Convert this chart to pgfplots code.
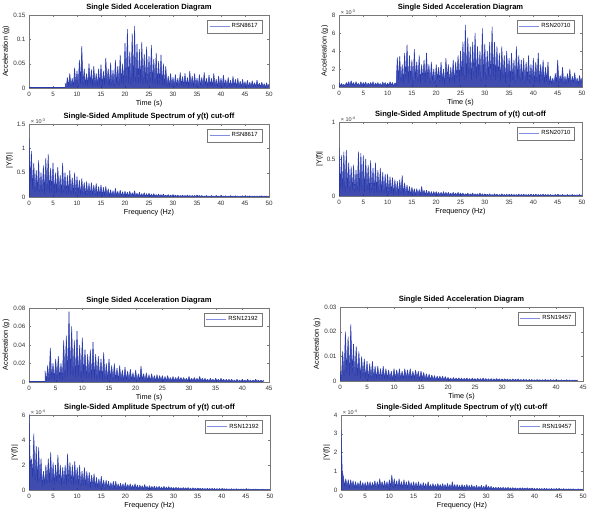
\documentclass[border=0pt]{standalone}
\usepackage{fontspec}
\setmainfont{Liberation Sans}
\setsansfont{Liberation Sans}
\usepackage{pgfplots}
\usepackage{pgfplotstable}
\pgfplotsset{compat=1.18}
\definecolor{sigblue}{RGB}{40,58,175}
\definecolor{fillblue}{RGB}{30,45,160}
\definecolor{legblue}{RGB}{130,140,225}
\definecolor{axgray}{RGB}{120,120,120}

\pgfplotstableread[header=false,row sep=\\]{
0.010\\0.002\\0.022\\0.003\\0.030\\0.004\\0.020\\0.002\\0.042\\0.006\\
0.035\\0.004\\0.058\\0.008\\0.086\\0.006\\0.040\\0.005\\0.030\\0.004\\
0.050\\0.007\\0.038\\0.003\\0.045\\0.006\\0.030\\0.004\\0.040\\0.005\\
0.048\\0.003\\0.035\\0.006\\0.062\\0.008\\0.040\\0.004\\0.052\\0.006\\
0.036\\0.003\\0.058\\0.007\\0.045\\0.005\\0.068\\0.010\\0.050\\0.006\\
0.092\\0.012\\0.121\\0.010\\0.075\\0.008\\0.112\\0.012\\0.127\\0.010\\
0.090\\0.009\\0.080\\0.011\\0.095\\0.008\\0.070\\0.010\\0.085\\0.007\\
0.065\\0.012\\0.088\\0.009\\0.060\\0.008\\0.072\\0.006\\0.055\\0.007\\
0.068\\0.005\\0.050\\0.006\\0.045\\0.004\\0.025\\0.003\\0.030\\0.004\\
0.022\\0.002\\0.028\\0.004\\0.020\\0.003\\0.032\\0.005\\0.024\\0.003\\
0.030\\0.004\\0.022\\0.002\\0.035\\0.004\\0.025\\0.003\\0.030\\0.004\\
0.020\\0.002\\0.028\\0.004\\0.022\\0.003\\0.032\\0.005\\0.020\\0.002\\
0.027\\0.004\\0.020\\0.003\\0.030\\0.004\\0.018\\0.002\\0.025\\0.003\\
0.020\\0.002\\0.027\\0.004\\0.017\\0.002\\0.022\\0.003\\0.016\\0.002\\
0.024\\0.003\\0.018\\0.002\\0.020\\0.003\\0.014\\0.002\\0.018\\0.003\\
0.013\\0.002\\0.016\\0.002\\0.012\\0.002\\0.015\\0.003\\0.011\\0.002\\
0.016\\0.003\\0.010\\0.002\\0.012\\0.002\\0.009\\0.001\\0.011\\0.002\\
0.008\\
}\tA

\pgfplotstableread[header=false,row sep=\\]{
0.5\\0.1\\0.4\\0.15\\0.3\\0.1\\0.5\\0.2\\0.6\\0.15\\
0.7\\0.2\\0.5\\0.1\\0.6\\0.2\\0.4\\0.1\\0.6\\0.15\\
0.5\\0.2\\0.55\\0.1\\0.45\\0.15\\0.5\\0.2\\0.6\\0.1\\
0.45\\0.2\\0.5\\0.15\\0.4\\0.1\\0.55\\0.2\\0.5\\0.1\\
0.45\\0.15\\0.6\\0.2\\0.5\\0.1\\0.45\\0.15\\
3.3\\0.8\\3.4\\0.6\\2.5\\0.4\\3.8\\0.9\\4.7\\0.5\\
3.5\\0.8\\3.0\\0.3\\4.2\\0.9\\2.8\\0.6\\3.5\\0.4\\
2.5\\0.8\\3.0\\0.5\\3.8\\0.9\\2.5\\0.4\\2.8\\0.7\\
2.0\\0.3\\2.5\\0.8\\2.2\\0.5\\2.8\\0.6\\2.0\\0.3\\
3.2\\0.9\\2.5\\0.5\\2.2\\0.7\\3.0\\0.4\\2.8\\1.0\\
3.5\\0.6\\4.0\\1.2\\5.0\\0.8\\6.9\\1.0\\5.5\\1.4\\
4.5\\0.7\\5.0\\1.2\\6.0\\0.9\\4.5\\1.3\\4.0\\0.6\\
6.5\\1.0\\4.8\\0.8\\4.0\\1.2\\5.0\\0.7\\6.7\\1.1\\
5.0\\0.8\\4.5\\1.0\\3.8\\0.6\\4.5\\0.9\\3.5\\0.5\\
4.0\\1.0\\3.2\\0.6\\3.8\\0.8\\3.0\\0.4\\4.5\\0.9\\
3.5\\0.6\\3.0\\0.8\\3.2\\0.4\\2.8\\0.7\\3.5\\0.5\\
2.5\\0.8\\3.2\\0.4\\2.8\\0.6\\3.8\\0.5\\2.5\\0.7\\
3.0\\0.4\\2.2\\0.6\\2.8\\0.3\\1.2\\0.4\\1.0\\0.3\\
1.5\\0.5\\3.0\\0.4\\1.3\\0.5\\2.2\\0.3\\1.2\\0.4\\
1.5\\0.5\\2.0\\0.3\\1.2\\0.5\\1.6\\0.4\\1.0\\0.3\\
1.3\\0.5\\1.0\\
}\tB

\pgfplotstableread[header=false,row sep=\\]{
1.20\\0.30\\0.95\\0.15\\0.70\\0.10\\0.55\\0.12\\0.75\\0.08\\
0.50\\0.10\\0.65\\0.06\\0.80\\0.12\\0.88\\0.08\\0.60\\0.10\\
0.70\\0.06\\0.50\\0.08\\0.62\\0.10\\0.45\\0.05\\0.70\\0.08\\
0.50\\0.06\\0.45\\0.07\\0.55\\0.05\\0.40\\0.06\\0.50\\0.04\\
0.42\\0.06\\0.35\\0.04\\0.38\\0.05\\0.30\\0.03\\0.32\\0.04\\
0.28\\0.03\\0.30\\0.04\\0.25\\0.03\\0.28\\0.02\\0.22\\0.03\\
0.25\\0.02\\0.20\\0.03\\0.22\\0.02\\0.17\\0.02\\0.15\\0.02\\
0.13\\0.01\\0.18\\0.02\\0.12\\0.01\\0.14\\0.02\\0.11\\0.01\\
0.12\\0.02\\0.10\\0.01\\0.12\\0.01\\0.09\\0.02\\0.13\\0.01\\
0.08\\0.01\\0.10\\0.01\\0.07\\0.01\\0.09\\0.01\\0.07\\0.01\\
0.08\\0.01\\0.06\\0.01\\0.07\\0.01\\0.05\\0.01\\0.06\\0.01\\
0.05\\0.01\\0.06\\0.01\\0.04\\0.01\\0.05\\0.01\\0.04\\0.01\\
0.05\\0.01\\0.04\\0.01\\0.04\\0.01\\0.03\\0.01\\0.04\\0.01\\
0.03\\0.01\\0.04\\0.01\\0.03\\0.01\\0.03\\0.01\\0.03\\0.01\\
0.04\\0.01\\0.03\\0.01\\0.03\\0.005\\0.02\\0.01\\0.03\\0.005\\
0.02\\0.005\\0.03\\0.01\\0.02\\0.005\\0.03\\0.005\\0.02\\0.005\\
0.03\\0.005\\0.02\\0.005\\0.025\\0.005\\0.02\\0.005\\0.03\\0.005\\
0.02\\0.005\\0.025\\0.005\\0.02\\0.005\\0.02\\0.005\\0.025\\0.005\\
0.02\\0.005\\0.02\\0.005\\0.025\\0.005\\0.02\\0.005\\0.02\\0.005\\
0.02\\0.005\\0.02\\0.005\\0.025\\0.005\\0.02\\0.005\\0.02\\0.005\\
0.02\\
}\tC

\pgfplotstableread[header=false,row sep=\\]{
0.65\\0.10\\0.55\\0.08\\0.60\\0.05\\0.62\\0.10\\0.45\\0.06\\
0.40\\0.08\\0.42\\0.05\\0.35\\0.07\\0.60\\0.06\\0.58\\0.08\\
0.55\\0.05\\0.50\\0.07\\0.42\\0.04\\0.48\\0.06\\0.38\\0.04\\
0.45\\0.05\\0.35\\0.04\\0.38\\0.05\\0.32\\0.03\\0.30\\0.04\\
0.30\\0.03\\0.26\\0.04\\0.25\\0.02\\0.22\\0.03\\0.20\\0.02\\
0.22\\0.03\\0.28\\0.02\\0.18\\0.02\\0.15\\0.02\\0.13\\0.01\\
0.12\\0.02\\0.10\\0.01\\0.10\\0.01\\0.09\\0.01\\0.13\\0.02\\
0.08\\0.01\\0.08\\0.01\\0.07\\0.01\\0.06\\0.01\\0.06\\0.01\\
0.06\\0.01\\0.05\\0.01\\0.05\\0.01\\0.06\\0.01\\0.05\\0.01\\
0.05\\0.01\\0.04\\0.01\\0.05\\0.01\\0.04\\0.01\\0.05\\0.01\\
0.04\\0.01\\0.04\\0.005\\0.03\\0.01\\0.04\\0.005\\0.03\\0.01\\
0.04\\0.005\\0.03\\0.01\\0.03\\0.005\\0.04\\0.005\\0.03\\0.005\\
0.03\\0.005\\0.025\\0.005\\0.03\\0.005\\0.02\\0.005\\0.03\\0.005\\
0.025\\0.005\\0.02\\0.005\\0.03\\0.005\\0.02\\0.005\\0.025\\0.005\\
0.02\\0.005\\0.025\\0.005\\0.02\\0.005\\0.02\\0.005\\0.025\\0.005\\
0.02\\0.005\\0.025\\0.005\\0.02\\0.005\\0.02\\0.005\\0.025\\0.005\\
0.02\\0.005\\0.025\\0.005\\0.02\\0.005\\0.02\\0.005\\0.025\\0.005\\
0.02\\0.005\\0.02\\0.005\\0.02\\0.005\\0.015\\0.005\\0.02\\0.005\\
0.02\\0.005\\0.015\\0.005\\0.02\\0.005\\0.015\\0.005\\0.02\\0.005\\
0.015\\0.005\\0.02\\0.005\\0.015\\0.005\\0.015\\0.005\\0.02\\0.005\\
0.015\\
}\tD

\pgfplotstableread[header=false,row sep=\\]{
0.012\\0.001\\0.018\\0.002\\0.037\\0.003\\0.020\\0.002\\0.025\\0.004\\
0.028\\0.003\\0.020\\0.002\\0.045\\0.005\\0.050\\0.006\\0.076\\0.008\\
0.060\\0.007\\0.045\\0.005\\0.055\\0.006\\0.040\\0.004\\0.048\\0.006\\
0.035\\0.004\\0.030\\0.005\\0.035\\0.003\\0.043\\0.004\\0.030\\0.003\\
0.028\\0.004\\0.025\\0.002\\0.032\\0.003\\0.020\\0.002\\0.025\\0.003\\
0.018\\0.002\\0.020\\0.002\\0.015\\0.001\\0.018\\0.002\\0.013\\0.001\\
0.016\\0.002\\0.012\\0.001\\0.014\\0.002\\0.010\\0.001\\0.013\\0.001\\
0.009\\0.001\\0.017\\0.002\\0.009\\0.001\\0.010\\0.001\\0.008\\0.001\\
0.009\\0.001\\0.007\\0.001\\0.008\\0.001\\0.007\\0.001\\0.007\\0.001\\
0.006\\0.001\\0.007\\0.001\\0.005\\0.001\\0.006\\0.001\\0.005\\0.001\\
0.006\\0.001\\0.005\\0.001\\0.005\\0.001\\0.004\\0.001\\0.006\\0.001\\
0.004\\0.001\\0.005\\0.001\\0.004\\0.001\\0.006\\0.001\\0.004\\0.001\\
0.004\\0.001\\0.003\\0.0005\\0.004\\0.001\\0.003\\0.0005\\0.004\\0.001\\
0.003\\0.0005\\0.004\\0.001\\0.003\\0.0005\\0.003\\0.0005\\0.003\\0.0005\\
0.003\\0.0005\\0.002\\0.0005\\0.003\\0.0005\\0.002\\0.0005\\0.003\\0.0005\\
0.002\\0.0005\\0.003\\0.0005\\0.002\\0.0005\\0.002\\0.0005\\0.003\\0.0005\\
0.002\\0.0005\\0.002\\0.0005\\0.002\\
}\tE

\pgfplotstableread[header=false,row sep=\\]{
0.004\\0.001\\0.012\\0.002\\0.020\\0.003\\0.018\\0.002\\0.023\\0.003\\
0.015\\0.002\\0.014\\0.002\\0.012\\0.001\\0.010\\0.002\\0.009\\0.001\\
0.008\\0.001\\0.007\\0.001\\0.008\\0.001\\0.006\\0.001\\0.006\\0.001\\
0.005\\0.001\\0.006\\0.001\\0.005\\0.001\\0.0045\\0.001\\0.004\\0.0005\\
0.005\\0.001\\0.0045\\0.001\\0.005\\0.001\\0.004\\0.001\\0.005\\0.001\\
0.0045\\0.001\\0.005\\0.001\\0.004\\0.001\\0.0045\\0.001\\0.004\\0.0005\\
0.004\\0.001\\0.0035\\0.0005\\0.003\\0.0005\\0.0028\\0.0005\\0.0025\\0.0005\\
0.0022\\0.0003\\0.002\\0.0005\\0.002\\0.0003\\0.002\\0.0003\\0.0018\\0.0003\\
0.0015\\0.0003\\0.0012\\0.0003\\0.0014\\0.0003\\0.0012\\0.0003\\0.0013\\0.0003\\
0.0012\\0.0003\\0.0011\\0.0003\\0.0012\\0.0003\\0.001\\0.0002\\0.0012\\0.0003\\
0.001\\0.0002\\0.0011\\0.0002\\0.001\\0.0002\\0.0012\\0.0002\\0.001\\0.0002\\
0.0009\\0.0002\\0.001\\0.0002\\0.0009\\0.0002\\0.001\\0.0002\\0.0009\\0.0002\\
0.0008\\0.0002\\0.0009\\0.0002\\0.0008\\0.0002\\0.0007\\0.0002\\0.0008\\0.0002\\
0.0007\\0.0002\\0.0008\\0.0002\\0.0006\\0.0001\\0.0007\\0.0002\\0.0006\\0.0001\\
0.0005\\0.0001\\0.0006\\0.0001\\0.0005\\0.0001\\0.0006\\0.0001\\0.0005\\0.0001\\
0.0005\\0.0001\\0.0006\\0.0001\\0.0005\\0.0001\\0.0006\\0.0001\\0.0005\\0.0001\\
0.0005\\0.0001\\0.0004\\0.0001\\0.0005\\0.0001\\0.0004\\0.0001\\0.0005\\0.0001\\
0.0004\\0.0001\\0.0004\\0.0001\\0.0004\\0.0001\\0.0004\\
}\tF

\pgfplotstableread[header=false,row sep=\\]{
6.2\\2.0\\2.5\\1.0\\4.5\\0.8\\3.5\\0.6\\3.4\\0.7\\
2.5\\0.3\\1.5\\0.4\\2.0\\0.5\\2.5\\0.6\\3.0\\0.5\\
2.2\\0.4\\2.0\\0.6\\2.8\\0.5\\2.0\\0.4\\1.8\\0.5\\
2.0\\0.4\\2.9\\0.6\\2.2\\0.5\\2.0\\0.4\\2.3\\0.5\\
1.8\\0.4\\2.0\\0.3\\1.5\\0.4\\1.8\\0.3\\1.5\\0.3\\
1.4\\0.2\\1.2\\0.3\\1.3\\0.2\\1.0\\0.2\\0.9\\0.2\\
1.1\\0.2\\0.8\\0.1\\0.8\\0.2\\0.7\\0.1\\0.6\\0.1\\
0.7\\0.1\\0.7\\0.1\\0.5\\0.1\\0.55\\0.1\\0.5\\0.1\\
0.6\\0.1\\0.45\\0.1\\0.5\\0.1\\0.4\\0.1\\0.5\\0.1\\
0.4\\0.05\\0.4\\0.1\\0.35\\0.05\\0.45\\0.1\\0.3\\0.05\\
0.35\\0.05\\0.3\\0.05\\0.32\\0.05\\0.28\\0.05\\0.3\\0.05\\
0.25\\0.05\\0.3\\0.05\\0.25\\0.05\\0.28\\0.05\\0.22\\0.05\\
0.2\\0.05\\0.22\\0.05\\0.2\\0.05\\0.18\\0.05\\0.2\\0.05\\
0.18\\0.05\\0.2\\0.05\\0.15\\0.03\\0.18\\0.05\\0.15\\0.03\\
0.15\\0.03\\0.14\\0.03\\0.15\\0.03\\0.12\\0.03\\0.14\\0.03\\
0.12\\0.03\\0.13\\0.03\\0.12\\0.03\\0.11\\0.03\\0.12\\0.03\\
0.1\\0.02\\0.11\\0.02\\0.1\\0.02\\0.09\\0.02\\0.1\\0.02\\
0.09\\0.02\\0.1\\0.02\\0.08\\0.02\\0.09\\0.02\\0.08\\0.02\\
0.08\\0.02\\0.08\\0.02\\0.07\\0.02\\0.08\\0.02\\0.07\\0.02\\
0.07\\0.02\\0.06\\0.02\\0.07\\0.02\\0.06\\0.02\\0.06\\0.02\\
0.05\\
}\tG

\pgfplotstableread[header=false,row sep=\\]{
3.2\\1.0\\0.7\\0.2\\0.6\\0.15\\0.55\\0.1\\0.55\\0.15\\
0.5\\0.1\\0.45\\0.1\\0.4\\0.12\\0.5\\0.1\\0.4\\0.12\\
0.4\\0.1\\0.45\\0.12\\0.45\\0.1\\0.4\\0.15\\0.5\\0.1\\
0.45\\0.12\\0.6\\0.15\\0.45\\0.1\\0.5\\0.12\\0.45\\0.1\\
0.55\\0.15\\0.8\\0.12\\0.6\\0.15\\0.5\\0.1\\0.6\\0.15\\
0.45\\0.1\\0.55\\0.12\\0.45\\0.1\\0.5\\0.12\\0.4\\0.1\\
0.45\\0.1\\0.4\\0.08\\0.45\\0.1\\0.35\\0.08\\0.4\\0.1\\
0.35\\0.08\\0.45\\0.1\\0.3\\0.08\\0.35\\0.1\\0.3\\0.08\\
0.35\\0.1\\0.3\\0.08\\0.35\\0.08\\0.3\\0.06\\0.35\\0.08\\
0.3\\0.06\\0.45\\0.08\\0.3\\0.06\\0.3\\0.08\\0.25\\0.06\\
0.3\\0.08\\0.25\\0.06\\0.3\\0.06\\0.25\\0.05\\0.28\\0.06\\
0.22\\0.05\\0.25\\0.05\\0.2\\0.05\\0.25\\0.05\\0.2\\0.05\\
0.3\\0.05\\0.2\\0.04\\0.2\\0.04\\0.15\\0.04\\0.15\\0.03\\
0.15\\0.03\\0.14\\0.03\\0.15\\0.03\\0.13\\0.03\\0.15\\0.03\\
0.12\\0.03\\0.13\\0.03\\0.12\\0.03\\0.11\\0.03\\0.12\\0.03\\
0.12\\0.03\\0.11\\0.03\\0.12\\0.03\\0.1\\0.03\\0.11\\0.03\\
0.08\\0.02\\0.09\\0.02\\0.08\\0.02\\0.08\\0.02\\0.09\\0.02\\
0.08\\0.02\\0.07\\0.02\\0.08\\0.02\\0.07\\0.02\\0.08\\0.02\\
0.07\\0.02\\0.06\\0.02\\0.07\\0.02\\0.06\\0.02\\0.06\\0.02\\
0.06\\0.02\\0.06\\0.02\\0.05\\0.02\\0.06\\0.02\\0.05\\0.02\\
0.05\\
}\tH

\pgfplotsset{
  sl/.style={color=sigblue, line width=0.5pt, mark=none, line join=miter, miter limit=1.5},
  sf/.style={draw=none, fill=fillblue, fill opacity=0.85, mark=none, forget plot},
  sig/.style={
    scale only axis, anchor=south west, clip mode=individual,
    tick align=inside,
    axis line style={axgray, line width=0.4pt},
    major tick length=2bp,
    every tick/.style={axgray, line width=0.3pt},
    tick label style={font=\fontsize{6.3}{7}\selectfont, text=black!80},
    xticklabel style={yshift=-0.5bp},
    label style={font=\fontsize{7.3}{8}\selectfont},
    xlabel style={yshift=3.5bp},
    ylabel style={yshift=-3bp},
    title style={font=\bfseries\fontsize{7.6}{8}\selectfont, yshift=-6bp},
    legend style={at={(rel axis cs:0.97,0.93)}, anchor=north east,
      font=\fontsize{6}{6.5}\selectfont, draw=axgray, line width=0.3pt,
      inner xsep=2pt, inner ysep=1.5pt, row sep=0pt},
    legend image code/.code={\draw[legblue, line width=0.5pt] (0cm,0cm) -- (0.7cm,0cm);},
    /pgf/number format/assume math mode=true,
    xmin=0, xmax=50, xtick={0,5,...,50},
    scaled y ticks=false, enlargelimits=false,
  },
  acc/.style={sig, title={Single Sided Acceleration Diagram}, xlabel={Time (s)}, ylabel={Acceleration (g)}},
  spe/.style={sig, title={Single-Sided Amplitude Spectrum of y(t) cut-off}, xlabel={Frequency (Hz)}, ylabel={|Y(f)|}},
}
\newcommand{\expo}[1]{\node[anchor=south west, inner sep=0.6pt, xshift=1bp, font=\fontsize{5.5}{5.5}\selectfont, text=black!80] at (rel axis cs:0,1) {× 10\textsuperscript{-#1}};}

\begin{document}
\begin{tikzpicture}
\useasboundingbox (0,0) rectangle (595bp,527bp);

% top-left acceleration
\begin{axis}[acc, at={(29bp,439bp)}, width=240bp, height=73bp,
  ymin=0, ymax=0.15, ytick={0,0.05,0.1,0.15}, yticklabels={0,0.05,0.1,0.15}]
\addplot[sl, forget plot] coordinates {(0,0.0008)(7.5,0.0008)};
\addplot[sf] table[x expr=\coordindex*0.25+7.5, y index=0] {\tA} \closedcycle;
\addplot[sl] table[x expr=\coordindex*0.25+7.5, y index=0] {\tA};
\legend{RSN8617}
\end{axis}

% top-right acceleration
\begin{axis}[acc, at={(339bp,440bp)}, width=243bp, height=72bp,
  ymin=0, ymax=8, ytick={0,2,4,6,8}, yticklabels={0,2,4,6,8}]
\addplot[sf] table[x expr=\coordindex*0.25, y index=0] {\tB} \closedcycle;
\addplot[sl] table[x expr=\coordindex*0.25, y index=0] {\tB};
\legend{RSN20710}
\expo{3}
\end{axis}

% top-left spectrum
\begin{axis}[spe, at={(29bp,330bp)}, width=240bp, height=73bp,
  ymin=0, ymax=1.5, ytick={0,0.5,1,1.5}, yticklabels={0,0.5,1,1.5}]
\addplot[sf] table[x expr=\coordindex*0.25, y index=0] {\tC} \closedcycle;
\addplot[sl] table[x expr=\coordindex*0.25, y index=0] {\tC};
\legend{RSN8617}
\expo{3}
\end{axis}

% top-right spectrum
\begin{axis}[spe, at={(339bp,331bp)}, width=243bp, height=74bp,
  ymin=0, ymax=1, ytick={0,0.5,1}, yticklabels={0,0.5,1}]
\addplot[sf] table[x expr=\coordindex*0.25, y index=0] {\tD} \closedcycle;
\addplot[sl] table[x expr=\coordindex*0.25, y index=0] {\tD};
\legend{RSN20710}
\expo{4}
\end{axis}

% bottom-left acceleration
\begin{axis}[acc, at={(29bp,145bp)}, width=240bp, height=74bp,
  xmax=45, xtick={0,5,...,45},
  ymin=0, ymax=0.08, ytick={0,0.02,0.04,0.06,0.08}, yticklabels={0,0.02,0.04,0.06,0.08}]
\addplot[sl, forget plot] coordinates {(0,0.0004)(3,0.0004)};
\addplot[sf] table[x expr=\coordindex*0.25+3, y index=0] {\tE} \closedcycle;
\addplot[sl] table[x expr=\coordindex*0.25+3, y index=0] {\tE};
\legend{RSN12192}
\end{axis}

% bottom-right acceleration
\begin{axis}[acc, at={(340bp,146bp)}, width=243bp, height=74bp,
  xmax=45, xtick={0,5,...,45},
  ymin=0, ymax=0.03, ytick={0,0.01,0.02,0.03}, yticklabels={0,0.01,0.02,0.03}]
\addplot[sf] table[x expr=\coordindex*0.25, y index=0] {\tF} \closedcycle;
\addplot[sl] table[x expr=\coordindex*0.25, y index=0] {\tF};
\legend{RSN19457}
\end{axis}

% bottom-left spectrum
\begin{axis}[spe, at={(29bp,37bp)}, width=241bp, height=75bp,
  ymin=0, ymax=6, ytick={0,2,4,6}, yticklabels={0,2,4,6}]
\addplot[sf] table[x expr=\coordindex*0.25, y index=0] {\tG} \closedcycle;
\addplot[sl] table[x expr=\coordindex*0.25, y index=0] {\tG};
\legend{RSN12192}
\expo{4}
\end{axis}

% bottom-right spectrum
\begin{axis}[spe, at={(341bp,37bp)}, width=242bp, height=75bp,
  ymin=0, ymax=4, ytick={0,1,2,3,4}, yticklabels={0,1,2,3,4}]
\addplot[sf] table[x expr=\coordindex*0.25, y index=0] {\tH} \closedcycle;
\addplot[sl] table[x expr=\coordindex*0.25, y index=0] {\tH};
\legend{RSN19457}
\expo{4}
\end{axis}
\end{tikzpicture}
\end{document}
